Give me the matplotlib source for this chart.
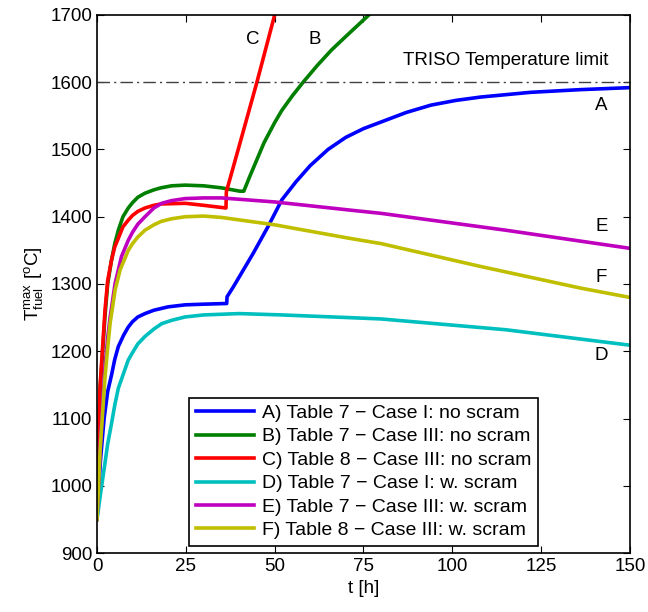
import matplotlib
matplotlib.use('Agg')
import matplotlib.pyplot as plt

plt.rcParams['font.family'] = ['Liberation Sans', 'DejaVu Sans']
plt.rcParams['mathtext.fontset'] = 'custom'
plt.rcParams['mathtext.rm'] = 'Liberation Sans'
plt.rcParams['mathtext.it'] = 'Liberation Sans:italic'
plt.rcParams['font.size'] = 13.5
plt.rcParams['xtick.direction'] = 'in'
plt.rcParams['ytick.direction'] = 'in'
plt.rcParams['xtick.top'] = True
plt.rcParams['ytick.right'] = True

# A) Table 7 - Case I: no scram (jump at ~36.5 h)
t_a = [0, 1, 2, 3, 4.1, 5, 6, 7.5, 8.8, 10, 11.5, 13.5, 16, 20, 24.8, 30, 36.5,
       36.6, 38.4, 41.2, 44, 48.2, 52, 56, 60, 65, 70, 75, 80, 87, 94, 101, 108, 122, 136, 150]
T_a = [950, 1040, 1100, 1140, 1165, 1188, 1207, 1224, 1236, 1244, 1251, 1256, 1261, 1266, 1269, 1270, 1271,
       1281, 1296, 1321, 1346, 1386, 1425, 1452, 1476, 1500, 1518, 1531, 1541, 1555, 1566, 1573, 1578, 1585, 1589, 1592]

# B) Table 7 - Case III: no scram
t_b = [0, 0.85, 2.25, 3, 4.1, 5, 6, 7.3, 8.8, 10, 11.5, 13.5, 16, 18, 21, 24.8, 30, 35, 40.2, 41.3,
       42, 43, 45, 47, 50, 52, 55, 58, 62, 66, 70, 76.5, 80]
T_b = [1000, 1142, 1252, 1300, 1336, 1360, 1380, 1400, 1413, 1421, 1429, 1435, 1440, 1443, 1446, 1447, 1446, 1443, 1438, 1438,
       1447, 1460, 1485, 1510, 1540, 1558, 1580, 1600, 1625, 1648, 1668, 1700, 1718]

# C) Table 8 - Case III: no scram
t_c = [0, 0.85, 2.25, 3, 4.1, 5, 6, 7.3, 8.8, 10, 11.5, 13.5, 16, 18, 24.8, 30, 36.3,
       36.4, 40, 45, 50, 51]
T_c = [1000, 1147, 1261, 1305, 1336, 1355, 1368, 1385, 1395, 1402, 1408, 1413, 1417, 1419, 1420, 1417, 1413,
       1437, 1505, 1600, 1700, 1720]

# D) Table 7 - Case I: w. scram
t_d = [0, 0.85, 2.25, 3, 4.1, 5, 6, 7, 8.8, 10, 11.5, 13.5, 16, 18.2, 21, 24.8, 30, 40, 52, 71, 80, 115, 150]
T_d = [950, 983, 1034, 1062, 1093, 1120, 1145, 1160, 1187, 1198, 1211, 1222, 1233, 1241, 1246, 1251, 1254, 1256, 1254, 1250, 1248, 1232, 1209]

# E) Table 7 - Case III: w. scram
t_e = [0, 1, 2.25, 3, 3.7, 5.1, 6.9, 8.8, 10, 11.5, 13.5, 16, 18.2, 21, 24.8, 30, 35, 50, 71, 80, 115, 150]
T_e = [950, 1070, 1177, 1220, 1251, 1301, 1341, 1365, 1377, 1389, 1400, 1413, 1420, 1424, 1427, 1428, 1428, 1422, 1410, 1405, 1380, 1353]

# F) Table 8 - Case III: w. scram
t_f = [0, 0.85, 2.25, 3, 3.7, 5.1, 6.5, 8.8, 10, 11.5, 13.5, 16, 18, 21, 24.8, 30, 35, 50, 71, 80, 108, 136, 150]
T_f = [950, 1050, 1162, 1205, 1242, 1291, 1321, 1350, 1360, 1370, 1380, 1388, 1393, 1397, 1400, 1401, 1399, 1388, 1368, 1360, 1326, 1294, 1280]

labels = ['A) Table 7 \u2212 Case I: no scram',
          'B) Table 7 \u2212 Case III: no scram',
          'C) Table 8 \u2212 Case III: no scram',
          'D) Table 7 \u2212 Case I: w. scram',
          'E) Table 7 \u2212 Case III: w. scram',
          'F) Table 8 \u2212 Case III: w. scram']
colors = ['#0000ff', '#007f00', '#ff0000', '#00bfbf', '#bf00bf', '#bfbf00']
T_limit = 1600

fig = plt.figure(figsize=(6.48, 6.12), dpi=100)
ax = fig.add_axes([0.1497, 0.0964, 0.8225, 0.8791])

series = [(t_a, T_a), (t_b, T_b), (t_c, T_c), (t_d, T_d), (t_e, T_e), (t_f, T_f)]
for (t, T), lab, c in zip(series, labels, colors):
    ax.plot(t, T, color=c, lw=2.6, label=lab)

ax.axhline(T_limit, color='0.25', lw=1, dashes=(9, 3, 1.5, 3))

ax.text(115, 1633, 'TRISO Temperature limit', ha='center', va='center')
ax.text(43.9, 1663, 'C', ha='center', va='center')
ax.text(61.4, 1663, 'B', ha='center', va='center')
ax.text(142, 1566, 'A', ha='center', va='center')
ax.text(142, 1385, 'E', ha='center', va='center')
ax.text(142, 1310, 'F', ha='center', va='center')
ax.text(142, 1194, 'D', ha='center', va='center')

ax.set_xlim(0, 150)
ax.set_ylim(900, 1700)
ax.set_xticks([0, 25, 50, 75, 100, 125, 150])
ax.set_yticks(range(900, 1701, 100))
ax.tick_params(length=5, width=0.8)
for s in ax.spines.values():
    s.set_linewidth(1.2)

ax.set_xlabel('t [h]')
ax.set_ylabel(r'$\mathrm{T}_{\mathrm{fuel}}^{\mathrm{max}}$ [$^{\mathrm{o}}$C]')

leg = ax.legend(loc='lower center', bbox_to_anchor=(0.5, 0.013), borderaxespad=0,
                handlelength=3.0, labelspacing=0.3, fancybox=False, framealpha=1,
                edgecolor='black', fontsize=14, borderpad=0.35, handletextpad=0.4)
leg.get_frame().set_linewidth(1.2)

fig.savefig('out.png', dpi=100)
